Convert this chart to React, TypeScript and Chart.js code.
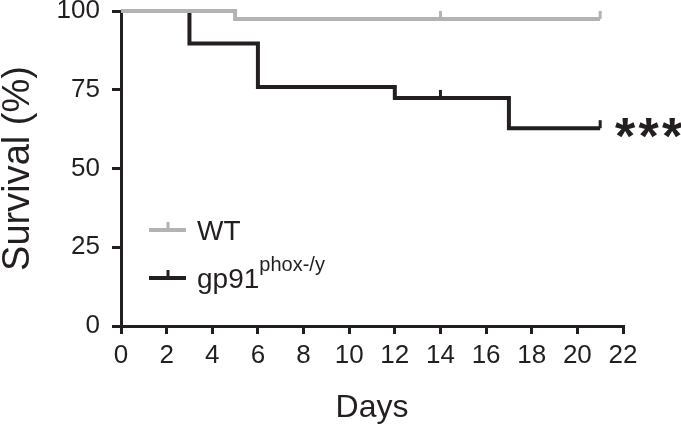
import React, { useEffect, useRef } from 'react';
import { Chart, registerables } from 'chart.js';

Chart.register(...registerables);

// ---- data ----
const X_MIN = 0;
const X_MAX = 22;
const X_STEP = 2;
const Y_TICKS = [0, 25, 50, 75, 100];

const WT_DAYS = [0, 5, 21];
const WT_SURVIVAL = [100, 97.5, 97.5];
const WT_CENSOR_DAYS = [14, 21];

const GP91_DAYS = [0, 3, 6, 12, 17, 21];
const GP91_SURVIVAL = [100, 89.7, 75.9, 72.4, 62.8, 62.8];
const GP91_CENSOR_DAYS = [14, 21];

const SERIES_LABELS = ['WT', 'gp91'];
const SERIES_SUPERSCRIPTS = ['', 'phox-/y'];
const SIGNIFICANCE = '***';
const X_TITLE = 'Days';
const Y_TITLE = 'Survival (%)';

// ---- styles ----
const FONT = '"Liberation Sans", Arial, Helvetica, sans-serif';
const INK = '#231f20';
const GREY = '#b3b3b3';

const SERIES = [
  { days: WT_DAYS, surv: WT_SURVIVAL, censor: WT_CENSOR_DAYS, color: GREY },
  { days: GP91_DAYS, surv: GP91_SURVIVAL, censor: GP91_CENSOR_DAYS, color: INK },
];

function survivalAt(days: number[], surv: number[], d: number) {
  let v = surv[0];
  for (let i = 0; i < days.length; i++) if (days[i] <= d) v = surv[i];
  return v;
}

const overlay = {
  id: 'overlay',
  afterDatasetsDraw(chart: any) {
    const { ctx } = chart;
    const xs = chart.scales.x;
    const ys = chart.scales.y;
    ctx.save();
    // censor marks
    SERIES.forEach((s) => {
      ctx.strokeStyle = s.color;
      ctx.lineWidth = 3;
      ctx.lineCap = 'butt';
      s.censor.forEach((d) => {
        const px = xs.getPixelForValue(d);
        const py = ys.getPixelForValue(survivalAt(s.days, s.surv, d));
        ctx.beginPath();
        ctx.moveTo(px, py);
        ctx.lineTo(px, py - 8);
        ctx.stroke();
      });
    });
    // legend
    const legendY = [230, 278];
    SERIES.forEach((s, i) => {
      const y = legendY[i];
      ctx.strokeStyle = s.color;
      ctx.lineWidth = 4;
      ctx.beginPath();
      ctx.moveTo(149, y);
      ctx.lineTo(186, y);
      ctx.stroke();
      ctx.lineWidth = 3;
      ctx.beginPath();
      ctx.moveTo(168, y);
      ctx.lineTo(168, y - 8);
      ctx.stroke();
      ctx.fillStyle = INK;
      ctx.font = `28px ${FONT}`;
      ctx.textAlign = 'left';
      ctx.textBaseline = 'alphabetic';
      const base = y + 10;
      ctx.fillText(SERIES_LABELS[i], 197, base);
      if (SERIES_SUPERSCRIPTS[i]) {
        const w = ctx.measureText(SERIES_LABELS[i]).width;
        ctx.font = `20px ${FONT}`;
        ctx.fillText(SERIES_SUPERSCRIPTS[i], 197 + w, base - 17);
      }
    });
    // significance stars at end of gp91 curve
    const lastDay = GP91_DAYS[GP91_DAYS.length - 1];
    const ex = xs.getPixelForValue(lastDay);
    const ey = ys.getPixelForValue(GP91_SURVIVAL[GP91_SURVIVAL.length - 1]);
    ctx.font = `bold 52px ${FONT}`;
    ctx.fillStyle = INK;
    ctx.textAlign = 'center';
    ctx.textBaseline = 'alphabetic';
    const m = ctx.measureText('*');
    const baseY = ey + (m.actualBoundingBoxAscent - m.actualBoundingBoxDescent) / 2;
    SIGNIFICANCE.split('').forEach((c, k) => {
      ctx.fillText(c, ex + 25 + k * 23.5, baseY);
    });
    ctx.restore();
  },
};

export default function App() {
  const ref = useRef<HTMLCanvasElement>(null);
  useEffect(() => {
    if (!ref.current) return;
    const mk = (days: number[], surv: number[]) => days.map((d, i) => ({ x: d, y: surv[i] }));
    const chart = new Chart(ref.current, {
      type: 'line',
      data: {
        datasets: [
          {
            label: SERIES_LABELS[0],
            data: mk(WT_DAYS, WT_SURVIVAL),
            borderColor: GREY,
            borderWidth: 4,
            stepped: 'before',
            pointRadius: 0,
            fill: false,
            clip: false,
          },
          {
            label: SERIES_LABELS[1] + SERIES_SUPERSCRIPTS[1],
            data: mk(GP91_DAYS, GP91_SURVIVAL),
            borderColor: INK,
            borderWidth: 4,
            stepped: 'before',
            pointRadius: 0,
            fill: false,
            clip: false,
          },
        ],
      } as any,
      options: {
        responsive: false,
        animation: false,
        events: [],
        layout: { padding: { top: 11, right: 58, left: 0, bottom: 0 } },
        plugins: { legend: { display: false }, tooltip: { enabled: false } },
        scales: {
          x: {
            type: 'linear',
            min: X_MIN,
            max: X_MAX,
            ticks: {
              stepSize: X_STEP,
              color: INK,
              font: { family: FONT, size: 26 },
              padding: 6,
              maxRotation: 0,
              autoSkip: false,
            },
            grid: { drawOnChartArea: false, drawTicks: true, tickLength: 8, color: INK, lineWidth: 3 },
            border: { display: true, color: INK, width: 3 },
            title: {
              display: true,
              text: X_TITLE,
              color: INK,
              font: { family: FONT, size: 32, lineHeight: 1.2 },
              padding: { top: 0, bottom: 2 },
            },
            afterFit(s: any) {
              s.height = 103;
              s.paddingLeft = 0;
              s.paddingRight = 0;
            },
          },
          y: {
            type: 'linear',
            min: 0,
            max: 100,
            afterBuildTicks(s: any) {
              s.ticks = Y_TICKS.map((v) => ({ value: v }));
            },
            ticks: {
              color: INK,
              font: { family: FONT, size: 26 },
              padding: 12,
            },
            grid: { drawOnChartArea: false, drawTicks: true, tickLength: 9, color: INK, lineWidth: 3 },
            border: { display: true, color: INK, width: 3 },
            title: {
              display: true,
              text: Y_TITLE,
              color: INK,
              font: { family: FONT, size: 38, lineHeight: 1 },
              padding: { top: 0, bottom: 0 },
            },
            afterFit(s: any) {
              s.width = 121;
              s.paddingTop = 0;
              s.paddingBottom = 0;
            },
          },
        },
      } as any,
      plugins: [overlay],
    });
    return () => chart.destroy();
  }, []);
  return (
    <div style={{ position: 'absolute', left: 0, top: 0, width: 681, height: 429, background: '#fff' }}>
      <canvas ref={ref} width={681} height={429} style={{ display: 'block' }} />
    </div>
  );
}
